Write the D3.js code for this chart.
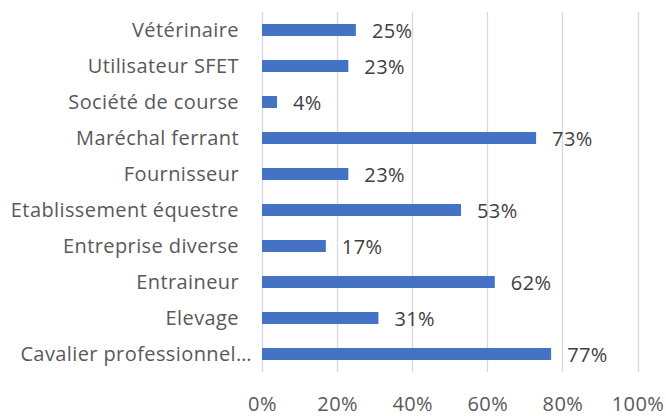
<!DOCTYPE html><html><head><meta charset="utf-8"><script src="https://cdn.jsdelivr.net/npm/d3@7"></script>
<style>body{margin:0;background:#fff}text{font-family:"Open Sans",sans-serif;}</style></head><body><svg id="s" width="666" height="416"></svg><script>
const categories=["Vétérinaire","Utilisateur SFET","Société de course","Maréchal ferrant","Fournisseur","Etablissement équestre","Entreprise diverse","Entraineur","Elevage","Cavalier professionnel…"];
const values=[0.25,0.23,0.04,0.73,0.23,0.53,0.17,0.62,0.31,0.77];
const tickValues=[0,0.2,0.4,0.6,0.8,1.0];

const svg=d3.select("#s");
const m={left:262,right:637.5,top:12,bottom:372};
const x=d3.scaleLinear().domain([0,1]).range([m.left,m.right]);
const y=d3.scaleBand().domain(categories).range([m.top,m.bottom]).paddingInner(0.667).paddingOuter(0.333);
const fmt=d3.format(".0%");

// gridlines
svg.append("g").selectAll("line").data(tickValues).join("line")
 .attr("x1",d=>Math.round(x(d))+0.5).attr("x2",d=>Math.round(x(d))+0.5)
 .attr("y1",m.top).attr("y2",m.bottom).attr("stroke","#d9d9d9").attr("stroke-width",1.3);

// x axis labels
const xa=svg.append("g").attr("transform",`translate(0,${m.bottom})`)
 .call(d3.axisBottom(x).tickValues(tickValues).tickFormat(fmt).tickSize(0).tickPadding(0));
xa.select(".domain").remove();
xa.selectAll("text").attr("dy",null).attr("y",39).style("font-size","20px").style("letter-spacing","0.4px").attr("fill","#595959").attr("font-family",null);

// y axis labels
const ya=svg.append("g").attr("transform",`translate(${m.left},0)`)
 .call(d3.axisLeft(y).tickSize(0).tickPadding(23));
ya.select(".domain").remove();
ya.selectAll("text").attr("dy",null).attr("y",6.7).style("font-size","20px").style("letter-spacing","0.4px").attr("fill","#595959").attr("font-family",null)
 .attr("x",d=>d.endsWith("…")?-10:-23);

// bars
svg.append("g").selectAll("rect").data(values).join("rect")
 .attr("x",x(0)).attr("y",(d,i)=>y(categories[i]))
 .attr("width",d=>x(d)-x(0)).attr("height",y.bandwidth()).attr("fill","#4472c4");

// data labels
svg.append("g").selectAll("text").data(values).join("text")
 .attr("x",d=>x(d)+16).attr("y",(d,i)=>y(categories[i])+y.bandwidth()/2+8)
 .style("font-size","20px").style("letter-spacing","0.4px").attr("fill","#404040").text(fmt);
</script></body></html>
